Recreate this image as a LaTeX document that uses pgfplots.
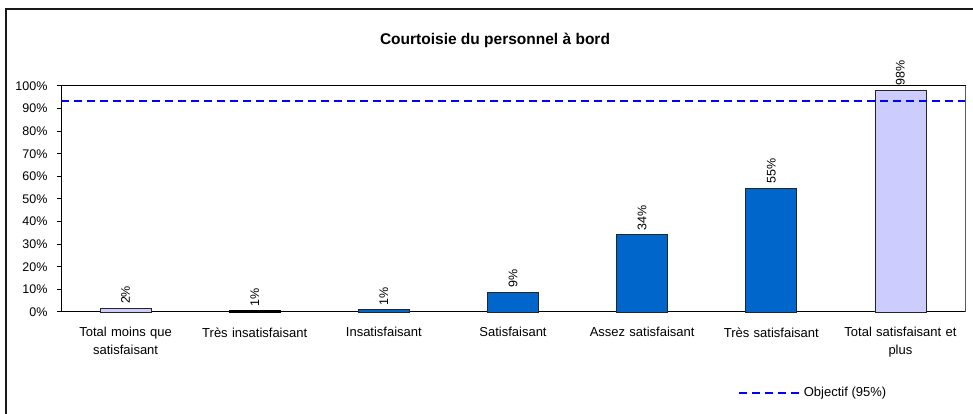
\documentclass[border=0pt]{standalone}
\usepackage{pgfplots}
\pgfplotsset{compat=1.18}
\usepackage{fontspec}
\setmainfont{Liberation Sans}
\definecolor{lav}{RGB}{204,204,255}
\definecolor{bblue}{RGB}{0,102,204}
\definecolor{objblue}{RGB}{0,0,255}
\pgfplotsset{objlegend/.style={legend image code/.code={\draw[##1] (0pt,0pt) -- (62pt,0pt);}}}
\begin{document}
\begin{tikzpicture}[x=1pt,y=1pt]
\useasboundingbox (0,0) rectangle (973,414);
\draw[line width=2pt,black!90] (6,0) -- (6,405) -- (973,405);
\node[font=\fontsize{15.5}{18}\selectfont\bfseries] at (495,374) {Courtoisie du personnel à bord};
\begin{axis}[
  at={(61pt,102pt)}, anchor=south west,
  scale only axis, width=904pt, height=226pt,
  xmin=-0.5, xmax=6.5, ymin=0, ymax=100,
  axis line style={black, line width=1pt},
  xtick pos=bottom, ytick pos=left,
  xtick={0,...,6},
  xticklabels={{Total moins que\\satisfaisant},{Très insatisfaisant},{Insatisfaisant},{Satisfaisant},{Assez satisfaisant},{Très satisfaisant},{Total satisfaisant et\\plus}},
  x tick label style={align=center, text width=125pt, font=\fontsize{13}{18}\selectfont, yshift=-8pt},
  major x tick style={draw=none},
  extra x ticks={-0.5,0.5,...,6.5},
  extra x tick labels={},
  extra x tick style={major tick length=5pt, tick align=outside, tick style={black, line width=1pt}},
  ytick={0,10,...,100},
  yticklabel={\pgfmathprintnumber{\tick}\%},
  y tick label style={font=\fontsize{12.5}{14}\selectfont, xshift=-6pt},
  /pgf/number format/assume math mode=true,
  major y tick style={black, line width=1pt},
  tick align=outside, major tick length=4pt,
  ybar, bar width=51pt, bar shift=0pt,
  nodes near coords={\pgfmathprintnumber[fixed,precision=0]{\pgfplotspointmeta}\%},
  every node near coord/.append style={rotate=90, anchor=west, font=\fontsize{12.5}{14}\selectfont, inner sep=3pt, xshift=1pt},
  legend style={draw=none, at={(0.832,-0.358)}, anchor=center, font=\fontsize{13}{15}\selectfont, legend cell align=left},
  objlegend,
  clip=false,
]
\addplot[fill=lav, draw=black!85, line width=0.8pt, forget plot] coordinates {(0,1.6) (6,98.2)};
\addplot[fill=black, draw=black, line width=0.8pt, forget plot] coordinates {(1,0.7)};
\addplot[fill=bblue, draw=black!85, line width=0.8pt, forget plot] coordinates {(2,1.0) (3,8.8) (4,34.2) (5,54.8)};
\addplot[sharp plot, no marks, nodes near coords={}, draw=objblue, line width=1.8pt, dash pattern=on 8pt off 5pt] coordinates {(-0.5,93.5) (6.5,93.5)};
\addlegendentry{Objectif (95\%)}
\draw[gray!70!black, line width=1pt] (rel axis cs:1,0) -- (rel axis cs:1,1);
\end{axis}
\end{tikzpicture}
\end{document}
